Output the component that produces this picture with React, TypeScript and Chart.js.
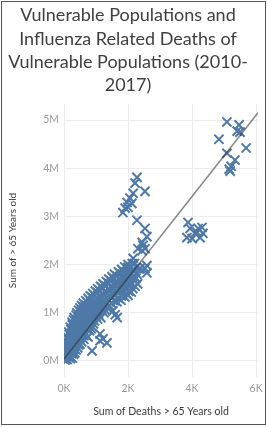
import React, { useEffect, useRef } from "react";
import { Chart, registerables } from "chart.js";

Chart.register(...registerables);

const titleLines = [
  "Vulnerable Populations and",
  "Influenza Related Deaths of",
  "Vulnerable Populations (2010-",
  "2017)",
];
const xTitle = "Sum of Deaths > 65 Years old";
const yTitle = "Sum of > 65 Years old";

const xTickValues = [0, 2, 4, 6];
const yTickValues = [0, 1, 2, 3, 4, 5];

// Sum of deaths > 65 (thousands)
const deathsK = [
  0.03, 0.1, 0.2,
  0.02, 0.08, 0.18, 0.3,
  0.05, 0.15, 0.25, 0.38,
  0.03, 0.12, 0.22, 0.33, 0.45,
  0.06, 0.18, 0.3, 0.42, 0.55,
  0.1, 0.22, 0.35, 0.48, 0.62, 0.75,
  0.15, 0.28, 0.4, 0.52, 0.65, 0.8,
  0.2, 0.32, 0.45, 0.58, 0.72, 0.88,
  0.25, 0.38, 0.52, 0.66, 0.8, 0.95,
  0.32, 0.45, 0.58, 0.72, 0.86, 1.0, 1.15,
  0.4, 0.52, 0.66, 0.8, 0.95, 1.1, 1.25,
  0.5, 0.62, 0.75, 0.9, 1.05, 1.2, 1.35,
  0.6, 0.72, 0.86, 1.0, 1.15, 1.3, 1.48, 1.65,
  0.75, 0.88, 1.02, 1.18, 1.34, 1.5, 1.7, 1.9,
  0.9, 1.05, 1.2, 1.36, 1.52, 1.7, 1.95, 2.1,
  1.05, 1.2, 1.38, 1.55, 1.72, 1.9, 2.15,
  1.22, 1.38, 1.55, 1.72, 1.9, 2.1, 2.3,
  1.4, 1.55, 1.72, 1.9, 2.05, 2.25,
  1.58, 1.75, 1.92, 2.1, 2.28,
  1.8, 1.98, 2.15, 2.35,
  2.0, 2.2,
  0.06, 0.15, 0.26,
  0.04, 0.13, 0.24, 0.34,
  0.08, 0.2, 0.31, 0.43,
  0.04, 0.15, 0.26, 0.37, 0.5,
  0.12, 0.24, 0.36, 0.49, 0.62,
  0.16, 0.28, 0.42, 0.55, 0.68,
  0.22, 0.34, 0.46, 0.58, 0.72, 0.85,
  0.26, 0.38, 0.51, 0.65, 0.8, 0.92,
  0.3, 0.44, 0.58, 0.72, 0.87, 1.05,
  0.38, 0.5, 0.64, 0.78, 0.92, 1.08,
  0.46, 0.58, 0.72, 0.86, 1.02, 1.18, 1.3,
  0.55, 0.68, 0.82, 0.97, 1.12, 1.28, 1.42,
  0.68, 0.8, 0.94, 1.08, 1.24, 1.4, 1.58, 1.78,
  0.82, 0.96, 1.1, 1.26, 1.42, 1.6, 1.8, 2.0,
  0.98, 1.12, 1.28, 1.45, 1.62, 1.82, 2.02,
  1.14, 1.3, 1.46, 1.64, 1.82, 2.0, 2.22,
  1.32, 1.48, 1.64, 1.82, 2.0, 2.18,
  1.5, 1.65, 1.82, 2.0, 2.16,
  1.7, 1.86, 2.04, 2.2,
  1.9, 2.08, 2.26,
  1.66, 1.53, 1.6, 1.22, 1.34, 1.125, 0.875, 1.125,
  2.28, 2.22, 2.53, 2.16, 2.06, 1.97, 1.91, 1.84, 2.0, 2.12,
  2.28, 2.53, 2.59, 2.44, 2.47, 2.31, 2.44, 2.53,
  2.16, 2.13, 2.0, 2.59, 2.38, 2.53, 1.84, 1.75, 1.66, 2.06, 1.97, 2.59,
  3.875, 3.94, 3.84, 4.09, 4.19, 4.31, 4.25, 4.0, 4.16, 4.34,
  5.09, 5.47, 5.41, 5.5, 4.84, 5.69, 5.09, 5.34, 5.22, 5.16, 5.19,
];

// Sum of population > 65 (millions)
const popM = [
  0.02, 0.03, 0.05,
  0.1, 0.12, 0.1, 0.14,
  0.2, 0.22, 0.2, 0.23,
  0.3, 0.3, 0.32, 0.3, 0.33,
  0.4, 0.41, 0.39, 0.42, 0.4,
  0.5, 0.52, 0.49, 0.5, 0.53, 0.5,
  0.6, 0.62, 0.59, 0.61, 0.6, 0.63,
  0.7, 0.72, 0.69, 0.71, 0.7, 0.72,
  0.8, 0.82, 0.79, 0.81, 0.8, 0.83,
  0.9, 0.92, 0.89, 0.91, 0.9, 0.92, 0.9,
  1.0, 1.02, 0.99, 1.01, 1.0, 1.03, 1.0,
  1.1, 1.12, 1.09, 1.11, 1.1, 1.12, 1.1,
  1.2, 1.22, 1.19, 1.21, 1.2, 1.22, 1.2, 1.23,
  1.3, 1.32, 1.29, 1.31, 1.3, 1.32, 1.3, 1.33,
  1.4, 1.42, 1.39, 1.41, 1.4, 1.42, 1.4, 1.43,
  1.5, 1.52, 1.49, 1.51, 1.5, 1.52, 1.5,
  1.6, 1.62, 1.59, 1.61, 1.6, 1.62, 1.6,
  1.7, 1.72, 1.69, 1.71, 1.7, 1.72,
  1.8, 1.82, 1.79, 1.81, 1.8,
  1.9, 1.92, 1.89, 1.91,
  2.0, 2.02,
  0.06, 0.07, 0.06,
  0.15, 0.16, 0.15, 0.17,
  0.25, 0.26, 0.24, 0.27,
  0.35, 0.36, 0.34, 0.36, 0.35,
  0.45, 0.46, 0.44, 0.46, 0.45,
  0.55, 0.56, 0.54, 0.56, 0.55,
  0.65, 0.66, 0.64, 0.66, 0.65, 0.67,
  0.75, 0.76, 0.74, 0.76, 0.75, 0.77,
  0.85, 0.86, 0.84, 0.86, 0.85, 0.87,
  0.95, 0.96, 0.94, 0.96, 0.95, 0.97,
  1.05, 1.06, 1.04, 1.06, 1.05, 1.07, 1.05,
  1.15, 1.16, 1.14, 1.16, 1.15, 1.17, 1.15,
  1.25, 1.26, 1.24, 1.26, 1.25, 1.27, 1.25, 1.26,
  1.35, 1.36, 1.34, 1.36, 1.35, 1.37, 1.35, 1.36,
  1.45, 1.46, 1.44, 1.46, 1.45, 1.47, 1.45,
  1.55, 1.56, 1.54, 1.56, 1.55, 1.57, 1.55,
  1.65, 1.66, 1.64, 1.66, 1.65, 1.67,
  1.75, 1.76, 1.74, 1.76, 1.75,
  1.85, 1.86, 1.84, 1.86,
  1.95, 1.96, 1.94,
  0.9, 1.04, 0.96, 0.46, 0.375, 0.42, 0.21, 0.56,
  3.81, 3.69, 3.52, 3.48, 3.38, 3.29, 3.17, 3.08, 3.19, 3.27,
  2.92, 2.75, 2.58, 2.46, 2.4, 2.33, 2.29, 2.33,
  2.13, 2.02, 1.94, 1.98, 1.92, 1.92, 1.77, 1.71, 1.6, 1.63, 1.52, 1.83,
  2.875, 2.75, 2.56, 2.65, 2.75, 2.77, 2.56, 2.54, 2.67, 2.65,
  4.96, 4.9, 4.77, 4.75, 4.6, 4.42, 4.31, 4.17, 4.04, 3.98, 3.94,
];

// Linear trend line endpoints
const trendDeathsK = [0, 6.06];
const trendPopM = [0.04, 5.15];

export default function App() {
  const ref = useRef<HTMLCanvasElement>(null);

  useEffect(() => {
    if (!ref.current) return;
    const points = deathsK.map((x, i) => ({ x, y: popM[i] }));
    const trend = trendDeathsK.map((x, i) => ({ x, y: trendPopM[i] }));

    const framePlugin = {
      id: "frame",
      beforeDraw(chart: any) {
        const ctx = chart.ctx;
        ctx.save();
        ctx.fillStyle = "#ffffff";
        ctx.fillRect(0, 0, chart.width, chart.height);
        ctx.restore();
      },
      afterDraw(chart: any) {
        const ctx = chart.ctx;
        ctx.save();
        ctx.strokeStyle = "#555555";
        ctx.lineWidth = 1;
        ctx.strokeRect(1.5, 1.5, 264, 423);
        ctx.fillStyle = "#404040";
        ctx.font = "18px Lato";
        ctx.textAlign = "center";
        ctx.textBaseline = "alphabetic";
        const baselines = [21, 44.5, 68, 91];
        titleLines.forEach((t, i) => ctx.fillText(t, 128, baselines[i]));
        ctx.restore();
      },
    };

    const tickFont = { family: "Lato", size: 10.5 };
    const chart = new Chart(ref.current, {
      type: "scatter",
      data: {
        datasets: [
          {
            type: "line",
            data: trend,
            borderColor: "rgba(40,40,40,0.55)",
            borderWidth: 1.5,
            pointRadius: 0,
            fill: false,
            order: 0,
          } as any,
          {
            data: points,
            pointStyle: "crossRot",
            pointRadius: 6.5,
            pointBorderWidth: 2,
            borderColor: "#4e79a7",
            backgroundColor: "#4e79a7",
            order: 1,
          } as any,
        ],
      },
      options: {
        responsive: false,
        animation: false,
        layout: { padding: { top: 104, right: 10, left: 0, bottom: 0 } },
        plugins: { legend: { display: false }, tooltip: { enabled: false } },
        scales: {
          x: {
            type: "linear",
            min: 0,
            max: 6.06,
            afterFit(s: any) {
              s.height = 50;
            },
            afterBuildTicks(s: any) {
              s.ticks = xTickValues.map((v) => ({ value: v }));
            },
            grid: { color: "#ececec", drawTicks: false },
            border: { display: false },
            ticks: {
              color: "#9a9a9a",
              font: tickFont,
              padding: 5,
              callback: (v: any) => v + "K",
            },
            title: {
              display: true,
              text: xTitle,
              color: "#3a3a3a",
              font: tickFont,
              padding: { top: 0, bottom: 9 },
            },
          },
          y: {
            type: "linear",
            min: -0.333,
            max: 5.333,
            afterFit(s: any) {
              s.width = 64;
            },
            afterBuildTicks(s: any) {
              s.ticks = yTickValues.map((v) => ({ value: v }));
            },
            grid: { color: "#ececec", drawTicks: false },
            border: { display: false },
            ticks: {
              color: "#9a9a9a",
              font: tickFont,
              padding: 5,
              callback: (v: any) => v + "M",
            },
            title: {
              display: true,
              text: yTitle,
              color: "#3a3a3a",
              font: { family: "Lato", size: 10 },
              padding: { top: 7, bottom: 0 },
            },
          },
        },
      },
      plugins: [framePlugin],
    } as any);
    return () => chart.destroy();
  }, []);

  return (
    <div style={{ position: "fixed", left: 0, top: 0, width: 268, height: 427 }}>
      <canvas ref={ref} width={268} height={427} style={{ display: "block", width: 268, height: 427 }} />
    </div>
  );
}
